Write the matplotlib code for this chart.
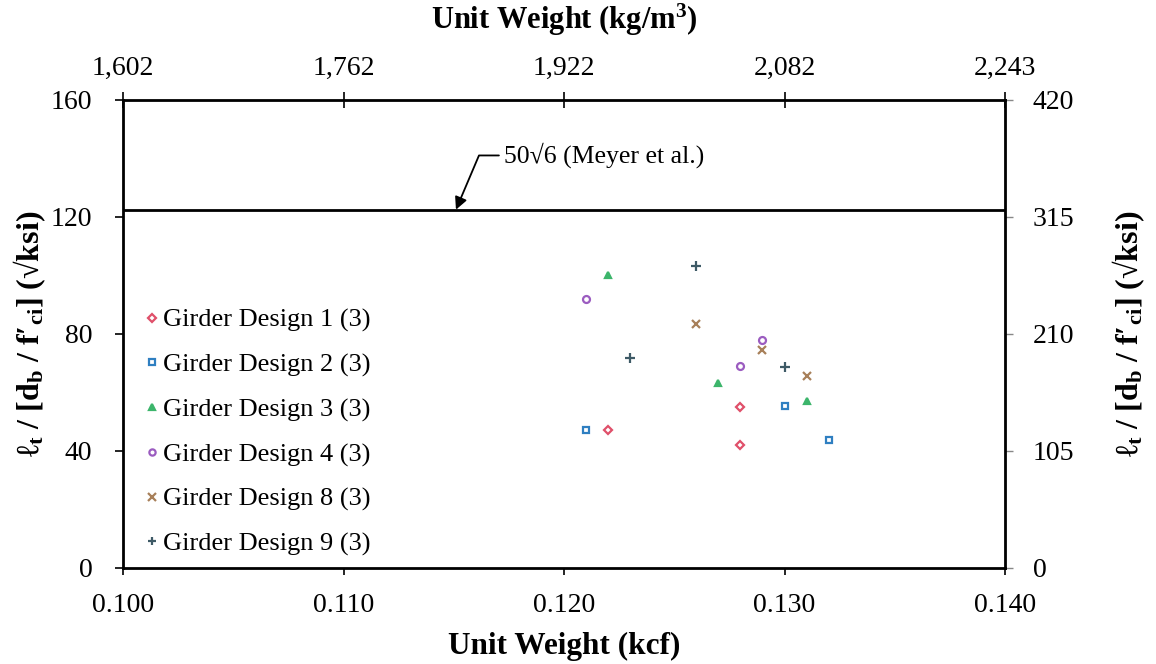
import matplotlib
matplotlib.use("Agg")
import matplotlib.pyplot as plt
from matplotlib.ticker import FuncFormatter

plt.rcParams['font.family'] = ['Liberation Serif', 'DejaVu Serif']
plt.rcParams['mathtext.fontset'] = 'custom'
plt.rcParams['mathtext.rm'] = 'Liberation Serif'
plt.rcParams['mathtext.it'] = 'Liberation Serif:italic'
plt.rcParams['mathtext.bf'] = 'Liberation Serif:bold'

# data: unit weight (kcf) and normalized transfer length
labels = ["Girder Design 1 (3)", "Girder Design 2 (3)", "Girder Design 3 (3)",
          "Girder Design 4 (3)", "Girder Design 8 (3)", "Girder Design 9 (3)"]
d1_x = [0.122, 0.128, 0.128]
d1_y = [47.3, 55.0, 42.0]
d2_x = [0.121, 0.130, 0.132]
d2_y = [47.0, 55.3, 43.7]
d3_x = [0.122, 0.127, 0.131]
d3_y = [100.0, 63.2, 57.0]
d4_x = [0.121, 0.129, 0.128]
d4_y = [92.0, 77.8, 69.0]
d8_x = [0.126, 0.129, 0.131]
d8_y = [83.3, 74.5, 65.5]
d9_x = [0.126, 0.123, 0.130]
d9_y = [103.2, 71.8, 68.6]
meyer = 50 * 6 ** 0.5

series = [(d1_x, d1_y, 'D', 4, '#e0506a', 'none'),
          (d2_x, d2_y, 's', 4.5, '#2f7fc1', 'none'),
          (d3_x, d3_y, '^', 5, '#3cb56b', '#3cb56b'),
          (d4_x, d4_y, 'o', 5, '#9b5cc0', 'none'),
          (d8_x, d8_y, 'x', 6, '#a8805a', 'none'),
          (d9_x, d9_y, '+', 6.5, '#3e5a66', 'none')]

fig = plt.figure(figsize=(11.56, 6.64), dpi=100)
ax = fig.add_axes([0.1064, 0.1446, 0.763, 0.705])

for (xs, ys, m, ms, c, fc), lab in zip(series, labels):
    ax.plot(xs, ys, linestyle='none', marker=m, markersize=ms, color=c,
            markerfacecolor=fc, markeredgewidth=1.6, label=lab)

ax.axhline(meyer, color='black', lw=2)
ax.annotate("50\u221a6 (Meyer et al.)", xy=(0.1151, meyer), xytext=(0.1173, 141),
            fontsize=18.5, ha='left', va='center',
            arrowprops=dict(arrowstyle='-|>', color='black', lw=1.3,
                            connectionstyle="angle,angleA=0,angleB=67,rad=0",
                            shrinkA=2, shrinkB=0))

ax.set_xlim(0.100, 0.140)
ax.set_ylim(0, 160)
ax.set_xticks([0.100, 0.110, 0.120, 0.130, 0.140])
ax.set_yticks([0, 40, 80, 120, 160])
ax.xaxis.set_major_formatter(FuncFormatter(lambda v, p: "%.3f" % v))
ax.tick_params(axis='x', labelsize=20, direction='out', length=5, width=1.2, pad=13)
ax.tick_params(axis='y', labelsize=20, direction='out', length=6, width=1.2, pad=16)
for s in ax.spines.values():
    s.set_linewidth(2)

ylab = "\u2113$_\\mathbf{t}$ / [d$_\\mathbf{b}$ / f\u2032$_\\mathbf{ci}$] (\u221aksi)"
ax.set_ylabel(ylab, fontsize=23, fontweight='bold', labelpad=2)
ax.set_xlabel("Unit Weight (kcf)", fontsize=22.5, fontweight='bold', labelpad=10)

top = ax.secondary_xaxis('top', functions=(lambda x: x * 16018.46, lambda x: x / 16018.46))
top.set_xticks([v * 16018.46 for v in [0.100, 0.110, 0.120, 0.130, 0.140]])
top.xaxis.set_major_formatter(FuncFormatter(lambda v, p: "{:,.0f}".format(v)))
top.tick_params(labelsize=20, direction='inout', length=12, width=1.2, pad=8)
top.set_xlabel("Unit Weight (kg/m$^\\mathbf{3}$)", fontsize=22, fontweight='bold', labelpad=19)

right = ax.secondary_yaxis('right', functions=(lambda y: y * 2.625, lambda y: y / 2.625))
right.set_yticks([0, 105, 210, 315, 420])
right.tick_params(labelsize=20, direction='out', length=6, width=1.0, pad=14,
                  color='#888888', labelcolor='black')
right.set_ylabel(ylab, fontsize=23, fontweight='bold', labelpad=26)

ax.legend(loc='lower left', bbox_to_anchor=(0.007, 0.0), frameon=False, fontsize=19,
          handletextpad=0.05, handlelength=0.8, labelspacing=0.79, markerscale=0.9,
          borderaxespad=0.05)

fig.savefig("out.png", dpi=100)
